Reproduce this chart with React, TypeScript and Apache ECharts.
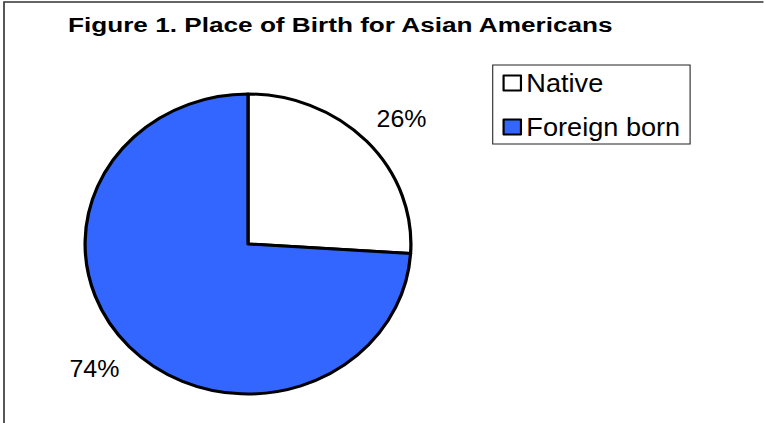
import React, { useEffect, useRef } from "react";
import * as echarts from "echarts";

const titleText = "Figure 1. Place of Birth for Asian Americans";
const categories = ["Native", "Foreign born"];
const values = [26, 74];
const colors = ["#ffffff", "#3366ff"];

const S = 1.086; // horizontal stretch of the reference
const W = 764 / S;
const H = 423;

export default function App() {
  const ref = useRef<HTMLDivElement>(null);
  useEffect(() => {
    if (!ref.current) return;
    const chart = echarts.init(ref.current, null, { renderer: "svg" });
    chart.setOption({
      animation: false,
      backgroundColor: "#ffffff",
      graphic: [
        {
          type: "rect",
          shape: { x: 4 / S, y: 2, width: 2000, height: 2000 },
          style: { fill: "none", stroke: "#333333", lineWidth: 1.5 },
          silent: true,
        },
        {
          type: "text",
          x: 62.6,
          y: 24.8,
          scaleX: 1.175,
          style: {
            text: titleText,
            fontFamily: "Liberation Sans, Arial, sans-serif",
            fontWeight: "bold",
            fontSize: 20.5,
            fill: "#000000",
            align: "left",
            verticalAlign: "middle",
          },
        },
      ],
      legend: {
        orient: "vertical",
        left: 453.7,
        top: 65,
        padding: [5, 9, 4, 9],
        borderColor: "#222222",
        borderWidth: 1,
        itemGap: 18,
        itemWidth: 16,
        itemHeight: 15,
        icon: "rect",
        itemStyle: { borderColor: "#000000", borderWidth: 2 },
        textStyle: {
          fontFamily: "Liberation Sans, Arial, sans-serif",
          fontSize: 25,
          lineHeight: 26,
          color: "#000000",
        },
        data: categories,
      },
      series: [
        {
          type: "pie",
          center: [248 / S, 244],
          radius: 150,
          startAngle: 90,
          clockwise: true,
          avoidLabelOverlap: false,
          itemStyle: { borderColor: "#000000", borderWidth: 3 },
          label: {
            show: true,
            position: "outside",
            formatter: "{d}%",
            fontFamily: "Liberation Sans, Arial, sans-serif",
            fontSize: 23,
            color: "#000000",
            distanceToLabelLine: 8,
          },
          labelLine: { show: false, length: 33, length2: 0 },
          labelLayout: () => ({ align: "center" }),
          emphasis: { disabled: true },
          data: categories.map((name, i) => ({
            name,
            value: values[i],
            itemStyle: { color: colors[i] },
          })),
        },
      ],
    });
    return () => chart.dispose();
  }, []);
  return (
    <div
      style={{
        position: "absolute",
        left: 0,
        top: 0,
        width: 764,
        height: H,
        overflow: "hidden",
        background: "#ffffff",
      }}
    >
      <div
        ref={ref}
        style={{
          width: W,
          height: H,
          transform: `scaleX(${S})`,
          transformOrigin: "0 0",
        }}
      />
    </div>
  );
}
